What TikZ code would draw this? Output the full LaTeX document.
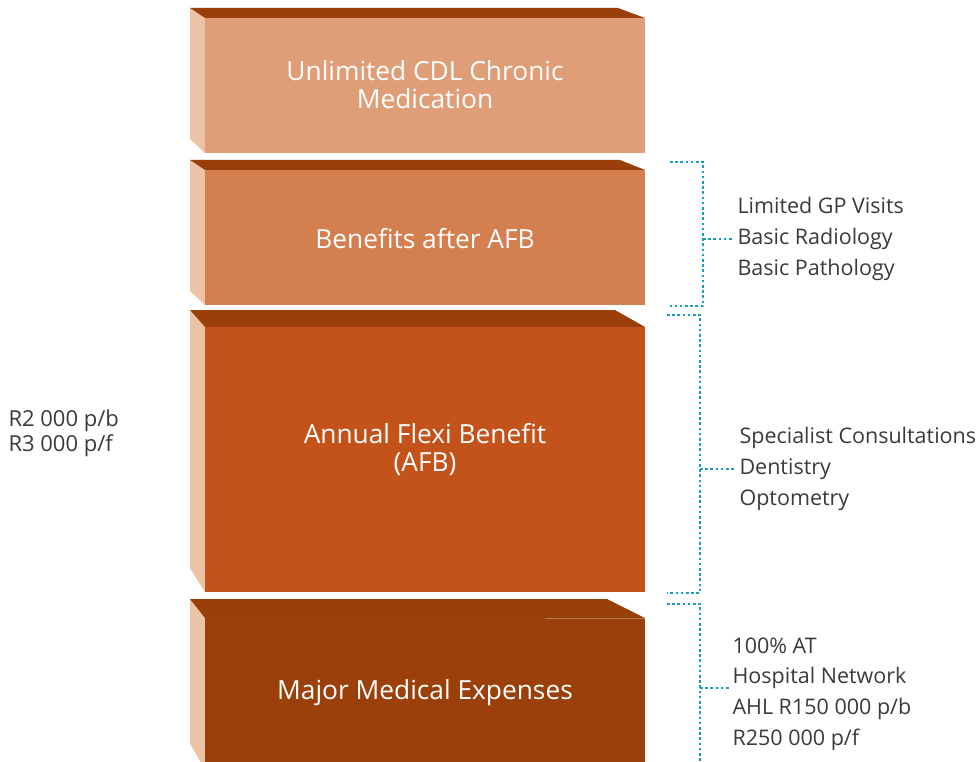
\documentclass[tikz,border=0pt]{standalone}
\usepackage{fontspec}
\setmainfont{Open Sans}
\definecolor{topc}{HTML}{9B3F0A}
\definecolor{sidec}{HTML}{EDC3A6}
\definecolor{fa}{HTML}{DF9E77}
\definecolor{fb}{HTML}{D47F4F}
\definecolor{fc}{HTML}{C3531B}
\definecolor{fd}{HTML}{9B400A}
\definecolor{txtc}{HTML}{3A3A3A}
\definecolor{teal}{HTML}{1A9DB5}
\begin{document}
\begin{tikzpicture}[x=1pt,y=-1pt,
  blocktext/.style={text=white,font=\fontsize{26.3}{28}\selectfont,align=center},
  sidetext/.style={text=txtc,font=\fontsize{21.5}{30.7}\selectfont,align=left,anchor=west},
  lefttext/.style={text=txtc,font=\fontsize{22}{25}\selectfont,align=left,anchor=west},
  bracket/.style={draw=teal,line width=2.6pt,dash pattern=on 2.6pt off 2.6pt}]
\useasboundingbox (0,0) rectangle (980,762);
\newcommand\myblock[5]{%
  \fill[sidec] (190,#1) -- (205,#2) -- (205,#3) -- (190,{#3-1.4*(#2-#1)}) -- cycle;
  \fill[topc] (190,#1) -- (#4,#1) -- (645,#2) -- (205,#2) -- cycle;
  \fill[#5] (205,#2) rectangle (645,#3);
}
\myblock{8}{18}{153}{618}{fa}
\myblock{160}{170}{305}{620}{fb}
\myblock{310}{327}{592}{615}{fc}
\myblock{599}{618}{770}{607}{fd}
\draw[color=fd!70!white,line width=0.8pt] (545,618) -- (645,618);
% block texts
\node[blocktext] (b1) at (425,85) {Unlimited CDL Chronic\\Medication};
\node[blocktext] (b2) at (425,239) {Benefits after AFB};
\node[blocktext] (b3) at (425,450) {Annual Flexi Benefit\\(AFB)};
\node[blocktext] (b4) at (425,693) {Major Medical Expenses};
% left text
\node[lefttext] (lt) at (5,433) {R2 000 p/b\\R3 000 p/f};
% side texts
\node[sidetext] (s1) at (734,239) {Limited GP Visits\\Basic Radiology\\Basic Pathology};
\node[sidetext] (s2) at (736,469) {Specialist Consultations\\Dentistry\\Optometry};
\node[sidetext] (s3) at (729,694) {100\% AT\\Hospital Network\\AHL R150 000 p/b\\R250 000 p/f};
% brackets
\coordinate (a1) at (670,162); \coordinate (a2) at (703,162);
\coordinate (a3) at (703,306); \coordinate (a4) at (670,306);
\coordinate (am) at (703,239);
\draw[bracket] (a1) -- (a2) -- (a3) -- (a4);
\draw[bracket] (am) -- (s1.west);
\coordinate (c1) at (667,315); \coordinate (c2) at (700,315);
\coordinate (c3) at (700,593); \coordinate (c4) at (667,593);
\coordinate (cm) at (700,469);
\draw[bracket] (c1) -- (c2) -- (c3) -- (c4);
\draw[bracket] (cm) -- (s2.west);
\coordinate (d1) at (667,604); \coordinate (d2) at (700,604);
\coordinate (d3) at (700,762);
\coordinate (dm) at (700,688);
\draw[bracket] (d1) -- (d2) -- (d3);
\draw[bracket] (dm) -- (s3.west |- dm);
\end{tikzpicture}
\end{document}
